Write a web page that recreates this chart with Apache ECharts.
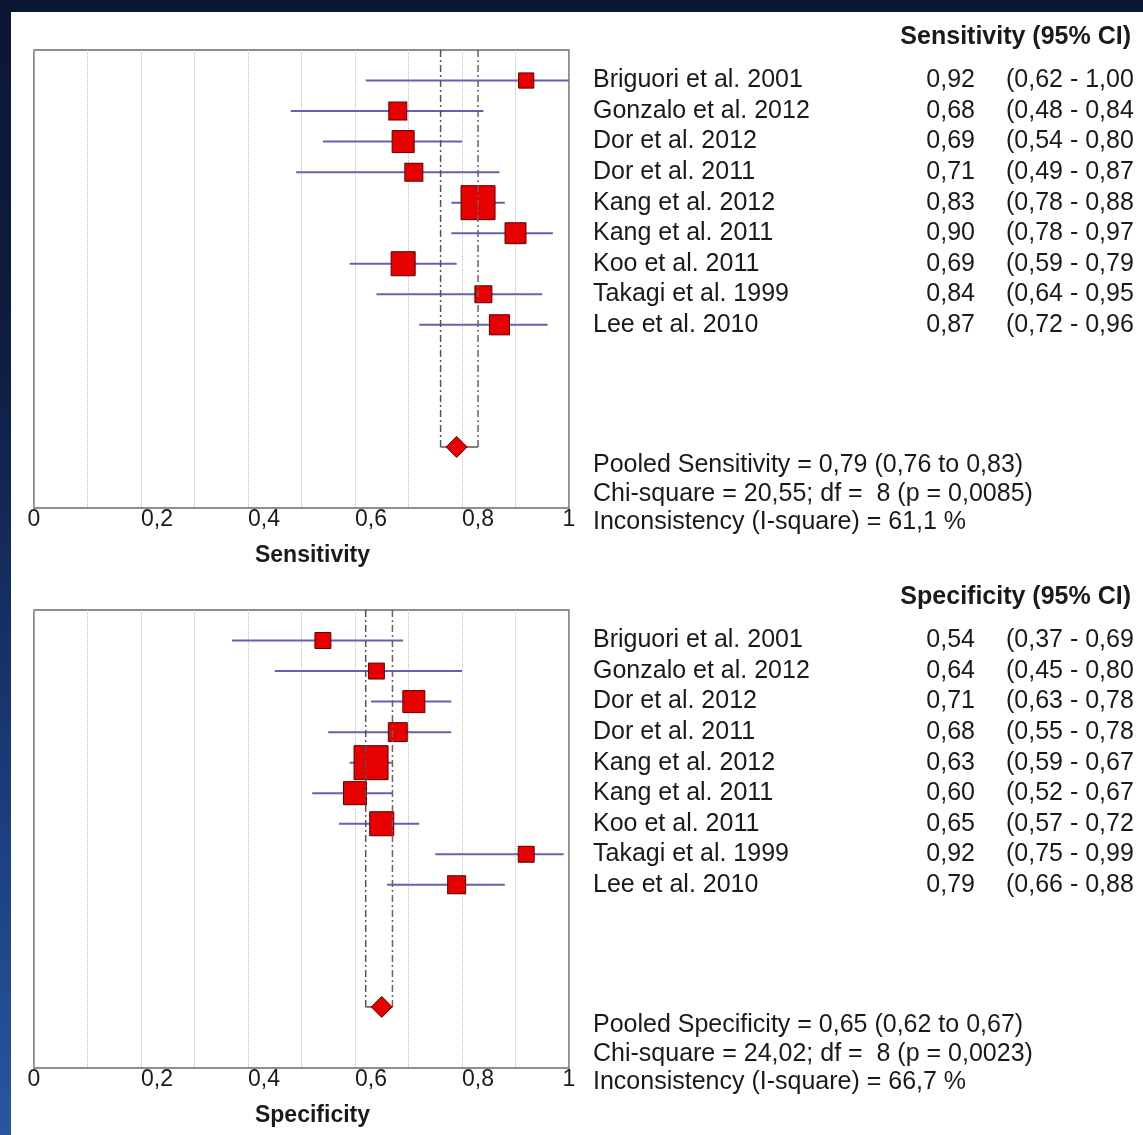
<!DOCTYPE html>
<html>
<head>
<meta charset="utf-8">
<script src="https://cdn.jsdelivr.net/npm/echarts@6/dist/echarts.min.js"></script>
<style>
  html, body { margin: 0; padding: 0; }
  body {
    width: 1143px; height: 1135px; overflow: hidden;
    background: linear-gradient(to bottom, #0b1733 0%, #0e1d40 30%, #183570 62%, #2756a0 100%);
  }
  #chart { position: absolute; left: 11px; top: 12px; width: 1132px; height: 1123px; background: #fff; }
</style>
</head>
<body>
<div id="chart"></div>
<script>
// ── Forest plot: sensitivity / specificity per study ──

const studies = ['Briguori et al. 2001', 'Gonzalo et al. 2012', 'Dor et al. 2012', 'Dor et al. 2011',
  'Kang et al. 2012', 'Kang et al. 2011', 'Koo et al. 2011', 'Takagi et al. 1999', 'Lee et al. 2010'];

const sensEst = [0.92, 0.68, 0.69, 0.71, 0.83, 0.90, 0.69, 0.84, 0.87];
const sensLo = [0.62, 0.48, 0.54, 0.49, 0.78, 0.78, 0.59, 0.64, 0.72];
const sensHi = [1.00, 0.84, 0.80, 0.87, 0.88, 0.97, 0.79, 0.95, 0.96];
const sensWeight = [20, 28, 42, 28, 100, 38, 50, 25, 35];   // relative study weight
const sensPooled = [0.79, 0.76, 0.83];                     // estimate, lower, upper
const sensStats = ['Pooled Sensitivity = 0,79 (0,76 to 0,83)', 'Chi-square = 20,55; df =  8 (p = 0,0085)', 'Inconsistency (I-square) = 61,1 %'];

const specEst = [0.54, 0.64, 0.71, 0.68, 0.63, 0.60, 0.65, 0.92, 0.79];
const specLo = [0.37, 0.45, 0.63, 0.55, 0.59, 0.52, 0.57, 0.75, 0.66];
const specHi = [0.69, 0.80, 0.78, 0.78, 0.67, 0.67, 0.72, 0.99, 0.88];
const specWeight = [22, 22, 42, 31, 100, 46, 50, 22, 28];
const specPooled = [0.65, 0.62, 0.67];
const specStats = ['Pooled Specificity = 0,65 (0,62 to 0,67)', 'Chi-square = 24,02; df =  8 (p = 0,0023)', 'Inconsistency (I-square) = 66,7 %'];

const xTicks = [0, 0.2, 0.4, 0.6, 0.8, 1];
const pooledRow = 12;

const FONT = '"Liberation Sans", Arial, sans-serif';
const INK = '#1a1a1a';
const fmt = v => v.toFixed(2).replace('.', ',');

const panels = [
  { name: 'Sensitivity', est: sensEst, lo: sensLo, hi: sensHi, w: sensWeight, pooled: sensPooled, stats: sensStats, top: 38 },
  { name: 'Specificity', est: specEst, lo: specLo, hi: specHi, w: specWeight, pooled: specPooled, stats: specStats, top: 598 },
];

const grid = [], xAxis = [], yAxis = [], series = [], title = [];

function rowAxis(g, labels, align, margin) {
  return {
    type: 'value', gridIndex: g, position: 'right', min: -1, max: 14, interval: 1, inverse: true,
    axisLine: { show: false }, axisTick: { show: false }, splitLine: { show: false },
    axisLabel: {
      margin, align, fontSize: 25, color: INK, fontFamily: FONT,
      formatter: v => { const i = Math.round(v); return labels[i] !== undefined ? labels[i] : ''; },
    },
  };
}

panels.forEach((p, g) => {
  grid.push({ left: 23, top: p.top, width: 535, height: 458, show: true, borderColor: '#6a6a6a', borderWidth: 1.5, backgroundColor: 'transparent' });

  xAxis.push({
    type: 'value', gridIndex: g, min: 0, max: 1, interval: 0.1,
    name: p.name, nameLocation: 'middle', nameGap: 36,
    nameTextStyle: { fontSize: 23, fontWeight: 'bold', color: INK, fontFamily: FONT, padding: [0, 0, 0, 22] },
    axisLine: { show: false }, axisTick: { show: false },
    splitLine: { show: true, lineStyle: { color: '#bdbdbd', type: 'dotted', width: 1 } },
    axisLabel: {
      margin: 0, fontSize: 23, color: INK, fontFamily: FONT,
      align: 'left', alignMinLabel: 'center', alignMaxLabel: 'center',
      formatter: v => {
        const t = xTicks.find(x => Math.abs(x - v) < 1e-6);
        return t === undefined ? '' : String(t).replace('.', ',');
      },
    },
  });

  const yi = yAxis.length;
  yAxis.push(rowAxis(g, studies, 'left', 24));
  yAxis.push(rowAxis(g, p.est.map(fmt), 'right', 406));
  yAxis.push(rowAxis(g, p.lo.map((l, i) => '(' + fmt(l) + ' - ' + fmt(p.hi[i])), 'left', 437));

  // confidence interval bars
  series.push({
    type: 'custom', xAxisIndex: g, yAxisIndex: yi, z: 2, silent: true,
    encode: { x: [0, 1], y: 2 },
    data: studies.map((_, i) => [p.lo[i], p.hi[i], i]),
    renderItem: (params, api) => {
      const a = api.coord([api.value(0), api.value(2)]);
      const b = api.coord([api.value(1), api.value(2)]);
      return { type: 'line', shape: { x1: a[0], y1: a[1], x2: b[0], y2: b[1] }, style: { stroke: '#6262b0', lineWidth: 2 } };
    },
  });

  // study point estimates, size by weight
  series.push({
    type: 'scatter', xAxisIndex: g, yAxisIndex: yi, z: 3, silent: true,
    symbol: 'rect',
    symbolSize: v => 34 * Math.sqrt(v[2] / 100),
    itemStyle: { color: '#e60000', borderColor: '#5a0000', borderWidth: 1, opacity: 1 },
    data: studies.map((_, i) => [p.est[i], i, p.w[i]]),
  });

  // pooled CI bracket
  series.push({
    type: 'custom', xAxisIndex: g, yAxisIndex: yi, z: 4, silent: true,
    encode: { x: [0, 1], y: 2 },
    data: [[p.pooled[1], p.pooled[2], pooledRow]],
    renderItem: (params, api) => {
      const lt = api.coord([api.value(0), -1]), lb = api.coord([api.value(0), api.value(2)]);
      const rt = api.coord([api.value(1), -1]), rb = api.coord([api.value(1), api.value(2)]);
      const dash = { stroke: '#555', lineWidth: 1.5, lineDash: [7, 3, 2, 3] };
      return {
        type: 'group', children: [
          { type: 'line', shape: { x1: lt[0], y1: lt[1], x2: lb[0], y2: lb[1] }, style: dash },
          { type: 'line', shape: { x1: rt[0], y1: rt[1], x2: rb[0], y2: rb[1] }, style: Object.assign({}, dash, { stroke: '#7a5a5a' }) },
          { type: 'line', shape: { x1: lb[0], y1: lb[1], x2: rb[0], y2: rb[1] }, style: { stroke: '#555', lineWidth: 1.5 } },
        ],
      };
    },
  });

  // pooled estimate diamond
  series.push({
    type: 'scatter', xAxisIndex: g, yAxisIndex: yi, z: 5, silent: true,
    symbol: 'diamond', symbolSize: 21,
    itemStyle: { color: '#e60000', borderColor: '#5a0000', borderWidth: 1, opacity: 1 },
    data: [[p.pooled[0], pooledRow]],
  });

  title.push({
    text: p.name + ' (95% CI)', right: 12, top: p.top - 27, padding: 0,
    textStyle: { fontSize: 25, fontWeight: 'bold', color: INK, fontFamily: FONT, lineHeight: 28 },
  });
  title.push({
    text: p.stats.join('\n'), left: 582, top: p.top + 401, padding: 0,
    textStyle: { fontSize: 25, fontWeight: 'normal', color: INK, fontFamily: FONT, lineHeight: 28.5 },
  });
});

const chart = echarts.init(document.getElementById('chart'));
chart.setOption({
  animation: false,
  backgroundColor: '#fff',
  title, grid, xAxis, yAxis, series,
});
</script>
</body>
</html>
